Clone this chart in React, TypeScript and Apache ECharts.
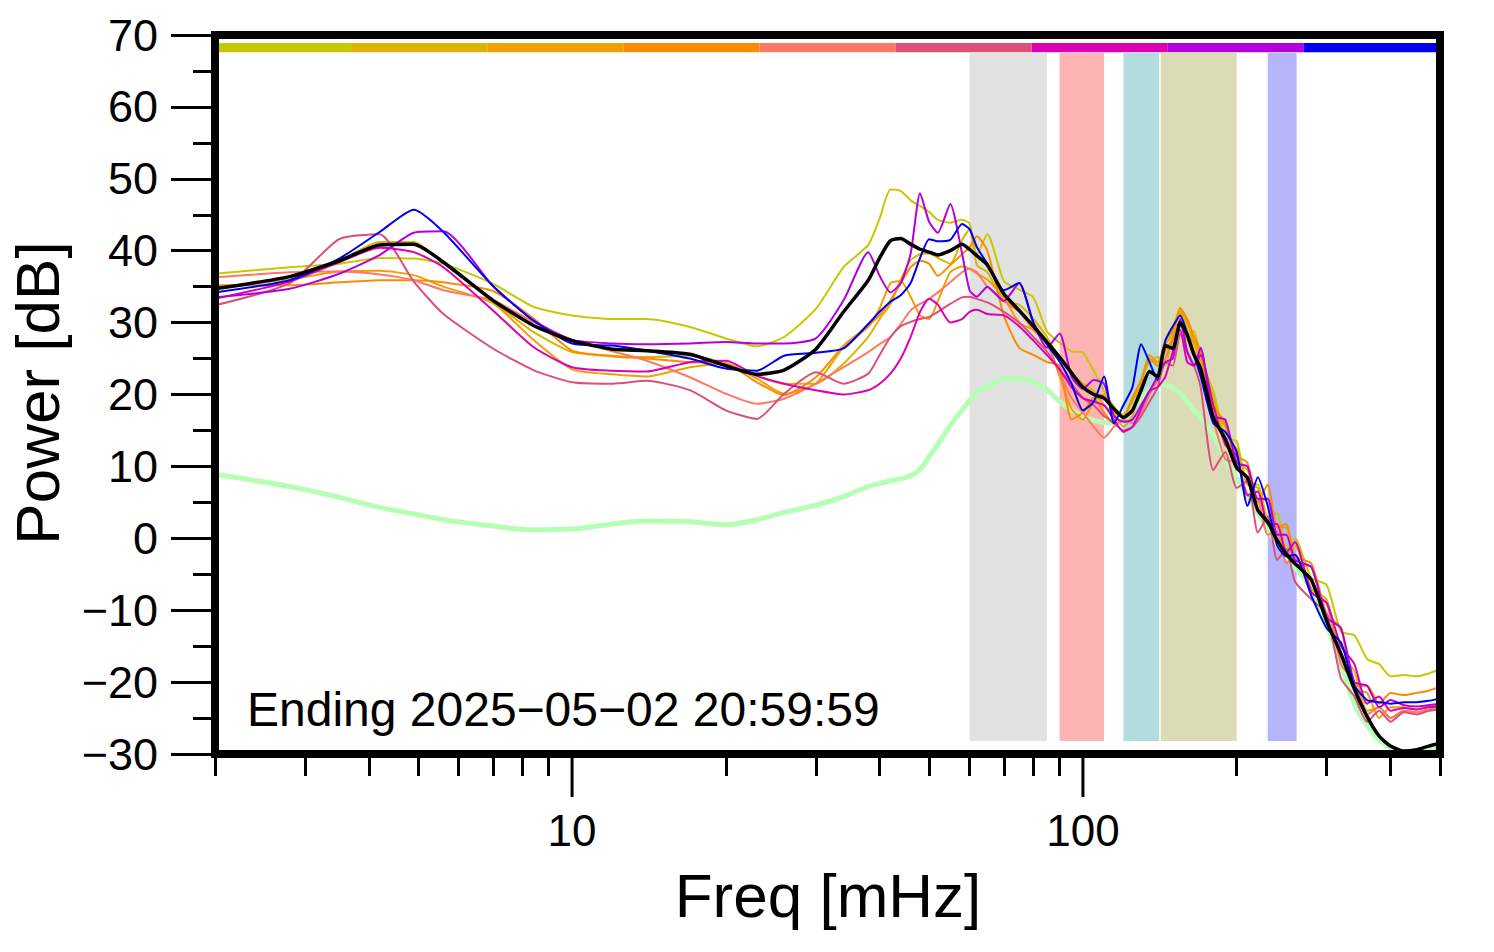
import React, { useEffect, useRef } from "react";
import * as echarts from "echarts";

// Frequency grid (mHz)
const FREQ = [2, 2.8, 3.5, 4.2, 4.9, 5.6, 7, 8.4, 10, 12, 14, 17, 20, 23, 26, 30, 34, 38, 40, 42, 44, 46, 48, 50, 52, 55, 58, 60, 62, 65, 70, 75, 80, 85, 90, 95, 100, 105, 110, 115, 120, 125, 130, 135, 140, 145, 150, 155, 160, 165, 170, 180, 190, 200, 210, 220, 230, 240, 250, 260, 280, 300, 320, 340, 360, 380, 400, 425, 450, 475, 500];

const DAY_COLORS = ["#c8c800", "#dcb400", "#f0a000", "#fa8c00", "#ff7864", "#dc5078", "#dc00b4", "#b400dc", "#0000f0"];

const DAY1 = [36.8, 37.7, 38.2, 39.0, 38.9, 38.2, 35.4, 32.2, 31.0, 30.5, 30.5, 29.4, 27.8, 26.7, 28.0, 31.9, 37.7, 40.8, 44.5, 48.5, 48.3, 47.0, 46.2, 45.4, 44.3, 43.9, 44.3, 43.8, 39.5, 42.3, 35.8, 34.6, 33.5, 28.8, 27.2, 26.0, 25.8, 23.3, 20.5, 18.3, 17.2, 19.5, 22.0, 24.5, 25.2, 24.0, 28.5, 31.5, 27.5, 28.8, 25.0, 20.5, 14.0, 13.5, 7.5, 7.5, 3.0, 3.5, -1.5, 0.0, -5.5, -6.5, -13.0, -13.5, -16.8, -17.5, -19.2, -19.0, -19.2, -18.8, -18.2];
const DAY2 = [34.6, 36.3, 38.6, 41.2, 41.2, 38.3, 32.9, 28.7, 25.9, 25.4, 25.2, 25.4, 24.3, 22.6, 21.5, 21.5, 24.3, 28.0, 30.5, 32.6, 36.0, 38.7, 39.5, 39.6, 39.0, 38.2, 41.5, 43.0, 38.0, 37.0, 33.0, 32.5, 30.5, 28.0, 25.0, 23.0, 21.5, 20.5, 18.5, 17.5, 17.0, 19.0, 21.5, 25.5, 24.5, 27.0, 28.5, 32.0, 29.0, 27.0, 24.5, 19.5, 13.0, 12.5, 7.5, 7.0, 2.0, 2.0, -2.5, -1.0, -7.0, -8.5, -16.0, -18.5, -24.0, -23.5, -25.0, -24.0, -24.2, -23.8, -23.8];
const DAY3 = [34.9, 36.0, 37.1, 37.2, 36.6, 35.0, 32.7, 27.6, 23.5, 22.8, 22.5, 23.8, 24.3, 22.2, 20.1, 21.5, 26.6, 29.4, 32.0, 35.5, 35.8, 33.6, 31.0, 30.5, 33.0, 37.0, 37.8, 37.5, 36.8, 36.0, 33.5, 30.0, 29.0, 27.5, 22.5, 18.0, 16.5, 19.0, 20.0, 17.5, 15.5, 17.0, 21.5, 25.5, 24.5, 26.0, 28.0, 31.5, 30.0, 27.5, 25.5, 18.0, 15.5, 10.5, 9.5, 5.0, 5.5, 1.5, 1.5, -3.5, -4.0, -11.0, -12.5, -21.0, -21.5, -25.0, -23.5, -23.5, -23.8, -23.4, -23.0];
const DAY4 = [35.2, 35.2, 35.6, 35.9, 35.9, 35.6, 34.4, 30.6, 26.1, 25.3, 25.0, 24.5, 24.3, 21.7, 19.9, 22.4, 26.8, 29.6, 31.0, 33.1, 35.5, 37.7, 38.6, 38.2, 36.5, 38.0, 39.5, 40.5, 42.0, 40.0, 31.0, 26.5, 25.5, 24.5, 24.0, 16.5, 17.5, 19.5, 17.5, 16.0, 16.5, 19.5, 22.0, 25.0, 24.0, 27.5, 29.0, 32.0, 30.5, 28.0, 26.0, 18.5, 16.0, 11.5, 10.5, 5.0, 7.5, 1.5, 2.0, -2.5, -3.5, -10.5, -12.5, -20.5, -20.5, -23.0, -21.5, -21.8, -21.5, -21.2, -20.6];
const DAY5 = [36.3, 37.0, 37.1, 36.7, 35.9, 34.5, 33.1, 30.1, 27.6, 26.0, 24.7, 22.4, 20.1, 18.7, 19.4, 21.5, 23.8, 25.9, 27.0, 28.0, 29.8, 31.7, 32.6, 33.3, 34.2, 35.6, 37.0, 37.5, 37.0, 35.0, 33.0, 31.5, 29.0, 27.0, 23.0, 19.5, 17.5, 15.5, 14.0, 15.5, 16.5, 16.0, 17.5, 20.0, 22.0, 25.0, 27.5, 29.5, 28.5, 26.0, 23.5, 16.5, 11.0, 10.5, 6.0, 5.5, 0.5, 1.0, -3.5, -2.5, -7.5, -9.0, -17.5, -20.0, -24.5, -23.5, -25.0, -24.0, -24.2, -23.8, -23.5];
const DAY6 = [32.4, 35.5, 41.6, 42.3, 35.7, 31.2, 26.4, 23.4, 21.7, 21.5, 21.9, 20.6, 17.8, 16.6, 20.1, 23.1, 21.5, 22.9, 25.5, 28.0, 29.5, 30.1, 30.5, 30.8, 31.5, 32.6, 33.5, 33.6, 33.3, 32.8, 31.5, 30.0, 28.0, 26.0, 23.5, 21.5, 19.5, 18.5, 17.0, 16.0, 15.0, 15.5, 17.0, 19.0, 21.0, 24.5, 24.0, 28.5, 26.0, 24.0, 21.0, 9.5, 12.0, 7.0, 8.0, 0.8, 3.0, -3.0, -1.5, -6.0, -8.5, -10.5, -19.5, -22.0, -25.5, -24.0, -25.5, -24.2, -24.5, -24.0, -23.8];
const DAY7 = [33.3, 35.7, 38.4, 40.4, 39.8, 37.7, 31.7, 26.6, 23.8, 23.3, 23.2, 24.5, 24.7, 22.6, 21.5, 20.6, 20.0, 20.6, 21.5, 22.9, 25.0, 28.0, 31.5, 33.3, 32.5, 30.0, 30.5, 31.5, 31.8, 31.2, 31.0, 29.5, 27.5, 25.5, 23.5, 21.0, 19.5, 19.0, 18.5, 16.5, 14.8, 15.5, 18.0, 20.5, 21.0, 22.5, 26.0, 29.0, 24.5, 24.0, 25.5, 18.5, 13.0, 11.5, 6.0, 6.5, 2.0, 2.0, -2.0, -0.5, -7.5, -9.0, -15.0, -17.5, -23.0, -22.0, -24.0, -23.6, -23.8, -23.5, -23.4];
const DAY8 = [33.5, 34.7, 36.8, 39.4, 42.5, 42.7, 35.1, 30.3, 27.6, 27.1, 27.0, 27.1, 27.3, 27.1, 27.1, 27.8, 33.1, 39.8, 36.5, 34.2, 35.5, 39.6, 48.0, 44.0, 42.5, 46.5, 39.6, 34.5, 33.6, 35.0, 33.0, 35.5, 30.0, 26.5, 28.5, 22.5, 20.8, 22.0, 21.5, 17.0, 16.2, 16.5, 18.5, 20.5, 22.5, 24.5, 25.0, 30.5, 26.0, 24.0, 26.5, 17.0, 16.5, 10.5, 10.0, 5.5, 5.5, 0.5, 0.5, -3.0, -4.0, -11.0, -12.5, -20.0, -20.5, -23.5, -22.5, -23.2, -23.4, -23.2, -23.0];
const DAY9 = [34.2, 35.9, 38.9, 42.6, 45.7, 42.6, 35.1, 30.3, 27.1, 26.8, 26.1, 25.0, 23.6, 23.3, 25.4, 25.8, 26.4, 29.8, 31.5, 32.9, 33.8, 35.5, 39.0, 41.6, 41.3, 41.5, 43.7, 43.0, 40.5, 38.2, 34.5, 35.5, 30.0, 27.0, 24.6, 21.5, 17.8, 19.0, 22.5, 16.0, 18.5, 21.0, 27.0, 24.5, 22.0, 27.5, 29.5, 31.0, 28.5, 25.5, 22.5, 16.0, 14.8, 12.0, 4.5, 8.5, 4.5, -1.0, -2.5, -2.3, -8.0, -12.5, -14.5, -20.5, -22.5, -22.8, -23.0, -22.8, -22.8, -22.6, -22.3];

const MEAN = [34.7, 36.4, 38.6, 40.8, 40.9, 38.4, 33.1, 29.6, 27.5, 26.3, 26.1, 25.6, 24.0, 22.8, 23.4, 26.3, 31.5, 35.9, 39.0, 41.4, 41.7, 40.9, 40.2, 39.8, 39.4, 40.0, 40.9, 40.2, 39.3, 38.0, 34.0, 31.7, 29.5, 27.3, 25.2, 23.0, 21.0, 20.0, 19.5, 18.0, 16.8, 17.8, 20.6, 23.2, 22.5, 26.8, 26.4, 30.0, 28.3, 25.5, 23.6, 16.8, 13.8, 9.8, 8.4, 3.9, 2.3, -0.3, -2.2, -3.5, -5.8, -11.5, -16.1, -21.0, -24.8, -27.5, -28.9, -29.6, -29.4, -28.9, -28.5];
const NOISE = [8.9, 7.2, 5.7, 4.3, 3.4, 2.6, 1.7, 1.2, 1.3, 2.0, 2.4, 2.3, 1.9, 2.6, 3.6, 4.6, 5.8, 7.2, 7.6, 8.0, 8.3, 8.7, 9.6, 11.4, 13.1, 15.7, 17.8, 19.2, 20.3, 21.0, 22.2, 22.2, 21.8, 20.7, 19.0, 17.8, 17.0, 16.4, 16.1, 16.0, 16.4, 18.0, 19.5, 20.7, 21.3, 21.4, 20.9, 20.2, 19.0, 17.8, 16.8, 14.3, 11.0, 8.3, 6.0, 3.5, 1.3, -0.8, -2.5, -4.0, -7.0, -12.0, -17.5, -23.0, -26.0, -28.0, -29.2, -29.9, -30.0, -29.6, -29.2];

const DAYS = [DAY1, DAY2, DAY3, DAY4, DAY5, DAY6, DAY7, DAY8, DAY9];

// Frequency bands [from, to] in mHz with their fill colours
const BAND_FROM = [60, 90, 120, 142, 230];
const BAND_TO = [85, 110, 141, 200, 262];
const BAND_COLORS = ["#e2e2e2", "#ffb4b4", "#b4dcdf", "#dbdbb5", "#b5b5fb"];

const X_MAJOR = [10, 100];
const X_MINOR = [2, 3, 4, 5, 6, 7, 8, 9, 20, 30, 40, 50, 60, 70, 80, 90, 200, 300, 400, 500];

const ANNOTATION = "Ending 2025\u221205\u221202 20:59:59";
const FONT = "'Liberation Sans', Arial, Helvetica, sans-serif";

const W = 1494;
const H = 952;
const GRID = { left: 215, top: 35, right: 54, bottom: 198 };
const MAJOR_TICK_LEN = 43;

function buildOption(useLog: boolean) {
  const X = (f: number) => (useLog ? f : Math.log10(f));
  const fmtX = (v: number) => String(Math.round(useLog ? v : Math.pow(10, v)));
  const xAxis: any = {
    type: useLog ? "log" : "value",
    min: X(2),
    max: X(500),
    gridIndex: 0,
    position: "bottom",
    axisLine: { show: false, onZero: false },
    splitLine: { show: false },
    minorTick: { show: false },
    minorSplitLine: { show: false },
    axisTick: { show: true, customValues: X_MINOR.map(X), length: 22, lineStyle: { color: "#000", width: 3 } },
    axisLabel: {
      show: true,
      customValues: X_MAJOR.map(X),
      formatter: fmtX,
      fontSize: 44,
      fontFamily: FONT,
      color: "#000",
      margin: 54,
    },
  };
  if (useLog) xAxis.logBase = 10;

  const gw = W - GRID.left - GRID.right;
  const gh = H - GRID.top - GRID.bottom;

  const lo = Math.log10(2);
  const hi = Math.log10(500);
  const barArea = DAY_COLORS.map((c, i) => [
    { xAxis: X(Math.pow(10, lo + ((hi - lo) * i) / 9)), yAxis: 67.6, itemStyle: { color: c, opacity: 1 } },
    { xAxis: X(Math.pow(10, lo + ((hi - lo) * (i + 1)) / 9)), yAxis: 68.9 },
  ]);
  const bandArea = BAND_FROM.map((f, i) => [
    { xAxis: X(f), yAxis: -28.2, itemStyle: { color: BAND_COLORS[i], opacity: 1 } },
    { xAxis: X(BAND_TO[i]), yAxis: 67.5 },
  ]);

  const mk = (name: string, vals: number[], color: string, width: number, z: number, smooth: number, extra: any = {}) => ({
    type: "line",
    name,
    data: FREQ.map((f, i) => [X(f), vals[i]]),
    symbol: "none",
    smooth,
    silent: true,
    z,
    lineStyle: { color, width },
    ...extra,
  });

  return {
    animation: false,
    backgroundColor: "#ffffff",
    grid: { left: GRID.left, top: GRID.top, right: GRID.right, bottom: GRID.bottom, containLabel: false },
    xAxis,
    yAxis: {
      type: "value",
      min: -30,
      max: 70,
      interval: 10,
      axisLine: { show: false },
      splitLine: { show: false },
      axisTick: { show: true, length: 44, lineStyle: { color: "#000", width: 3 } },
      minorTick: { show: true, splitNumber: 2, length: 22, lineStyle: { color: "#000", width: 3 } },
      axisLabel: {
        fontSize: 45,
        fontFamily: FONT,
        color: "#000",
        margin: 57,
        formatter: (v: number) => (v < 0 ? "\u2212" + Math.abs(v) : String(v)),
      },
    },
    series: [
      mk("Noise model", NOISE, "#b4ffb4", 5, 2, 0.4, {
        markArea: { silent: true, z: 1, data: [...bandArea, ...barArea] },
      }),
      ...DAYS.map((d, i) => mk("Day " + (i + 1), d, DAY_COLORS[i], 2, 3, 0.2)),
      mk("Mean", MEAN, "#000000", 3.5, 4, 0.2),
    ],
    graphic: [
      {
        type: "rect",
        id: "frame",
        z: 100,
        silent: true,
        shape: { x: GRID.left, y: GRID.top, width: gw, height: gh },
        style: { fill: "none", stroke: "#000", lineWidth: 8 },
      },
      {
        type: "text",
        id: "annotation",
        z: 100,
        x: 247,
        y: 709,
        style: {
          text: ANNOTATION,
          fontSize: 48,
          fontFamily: FONT,
          fill: "#000",
          align: "left",
          verticalAlign: "middle",
          textAlign: "left",
          textVerticalAlign: "middle",
        },
      },
      {
        type: "text",
        id: "xtitle",
        z: 100,
        x: 828,
        y: 895,
        style: {
          text: "Freq [mHz]",
          fontSize: 62,
          fontFamily: FONT,
          fill: "#000",
          align: "center",
          verticalAlign: "middle",
          textAlign: "center",
          textVerticalAlign: "middle",
        },
      },
      {
        type: "text",
        id: "ytitle",
        z: 100,
        x: 37,
        y: 393,
        rotation: Math.PI / 2,
        style: {
          text: "Power [dB]",
          fontSize: 62,
          fontFamily: FONT,
          fill: "#000",
          align: "center",
          verticalAlign: "middle",
          textAlign: "center",
          textVerticalAlign: "middle",
        },
      },
    ],
  };
}

export default function App() {
  const ref = useRef<HTMLDivElement>(null);
  useEffect(() => {
    if (!ref.current) return;
    const chart = echarts.init(ref.current, undefined, { renderer: "svg" });
    let useLog = true;
    try {
      chart.setOption(buildOption(true) as any);
    } catch (e) {
      useLog = false;
      chart.clear();
      chart.setOption(buildOption(false) as any, true);
    }
    // Long major ticks at the decades, placed through the axis scale
    try {
      const yBottom = chart.convertToPixel({ yAxisIndex: 0 } as any, -30) as unknown as number;
      const majors = X_MAJOR.map((f, i) => {
        const px = chart.convertToPixel({ xAxisIndex: 0 } as any, useLog ? f : Math.log10(f)) as unknown as number;
        return {
          type: "line",
          id: "major" + i,
          z: 90,
          silent: true,
          shape: { x1: px, y1: yBottom, x2: px, y2: yBottom + MAJOR_TICK_LEN },
          style: { stroke: "#000", lineWidth: 3 },
        };
      });
      chart.setOption({ graphic: majors } as any);
    } catch (e) {
      // ignore
    }
    return () => chart.dispose();
  }, []);
  return <div ref={ref} style={{ position: "absolute", left: 0, top: 0, width: W, height: H }} />;
}
